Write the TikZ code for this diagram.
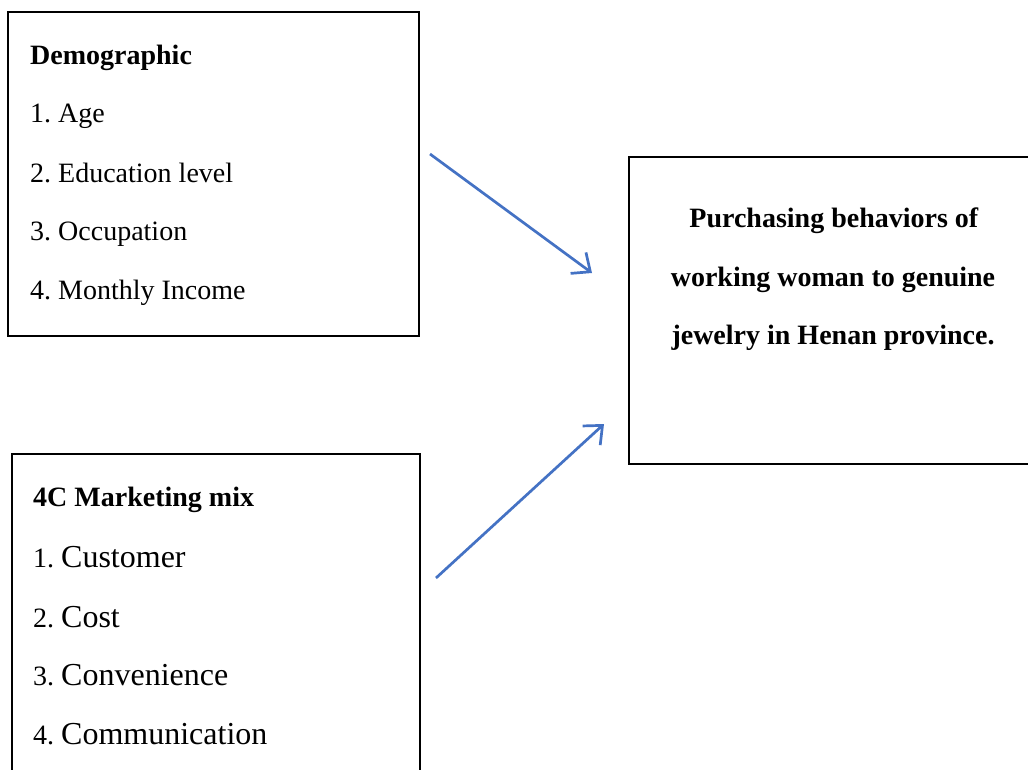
\documentclass[tikz,border=0pt]{standalone}
\usepackage{fontspec}
\setmainfont{Liberation Serif}
\usetikzlibrary{positioning,calc,arrows.meta}

\definecolor{arrowblue}{RGB}{68,114,196}
\frenchspacing

\begin{document}
\begin{tikzpicture}[x=1pt, y=-1pt]
	\useasboundingbox (0,0) rectangle (1028,769);
	\begin{scope}
		\tikzstyle{every node}=[inner sep=0pt, font=\fontsize{28}{34}\selectfont]
		\tikzstyle{box}=[draw, line width=2.2pt, minimum width=408pt]
		\tikzstyle{item}=[anchor=base west]

		% boxes
		\node [box, minimum width=411pt, minimum height=324pt] (demo) at (213.5, 174) {};
		\node [box, minimum height=336pt] (mix) at (216, 622) {};
		\node [box, minimum height=307pt] (beh) at (833, 310.5) {};

		% demographic
		\node [item] (demot) at (30, 64) {\textbf{Demographic}};
		\node [item] (age) at (30, 122) {1. Age};
		\node [item] (edu) at (30, 182) {2. Education level};
		\node [item] (occ) at (30, 240) {3. Occupation};
		\node [item] (inc) at (30, 299) {4. Monthly Income};

		% marketing mix
		\node [item] (mixt) at (33, 506) {\textbf{4C Marketing mix}};
		\node [item] (cus) at (33, 567) {1. {\fontsize{32}{38}\selectfont Customer}};
		\node [item] (cost) at (33, 627) {2. {\fontsize{32}{38}\selectfont Cost}};
		\node [item] (conv) at (33, 685) {3. {\fontsize{32}{38}\selectfont Convenience}};
		\node [item] (com) at (33, 744) {4. {\fontsize{32}{38}\selectfont Communication}};

		% behaviour
		\node [anchor=base] (beh1) at (834, 227) {\textbf{Purchasing behaviors of}};
		\node [anchor=base] (beh2) at (833, 286) {\textbf{working woman to genuine}};
		\node [anchor=base] (beh3) at (833, 344) {\textbf{jewelry in Henan province.}};

		\coordinate (a1) at (430, 154);
		\coordinate (b1) at (592, 273);
		\coordinate (a2) at (436, 578);
		\coordinate (b2) at (604, 424);

		\draw [arrowblue, line width=2.7pt, -{Straight Barb[length=15pt, width=26pt]}] (a1) to (b1);
		\draw [arrowblue, line width=2.7pt, -{Straight Barb[length=15pt, width=26pt]}] (a2) to (b2);
	\end{scope}
\end{tikzpicture}
\end{document}
